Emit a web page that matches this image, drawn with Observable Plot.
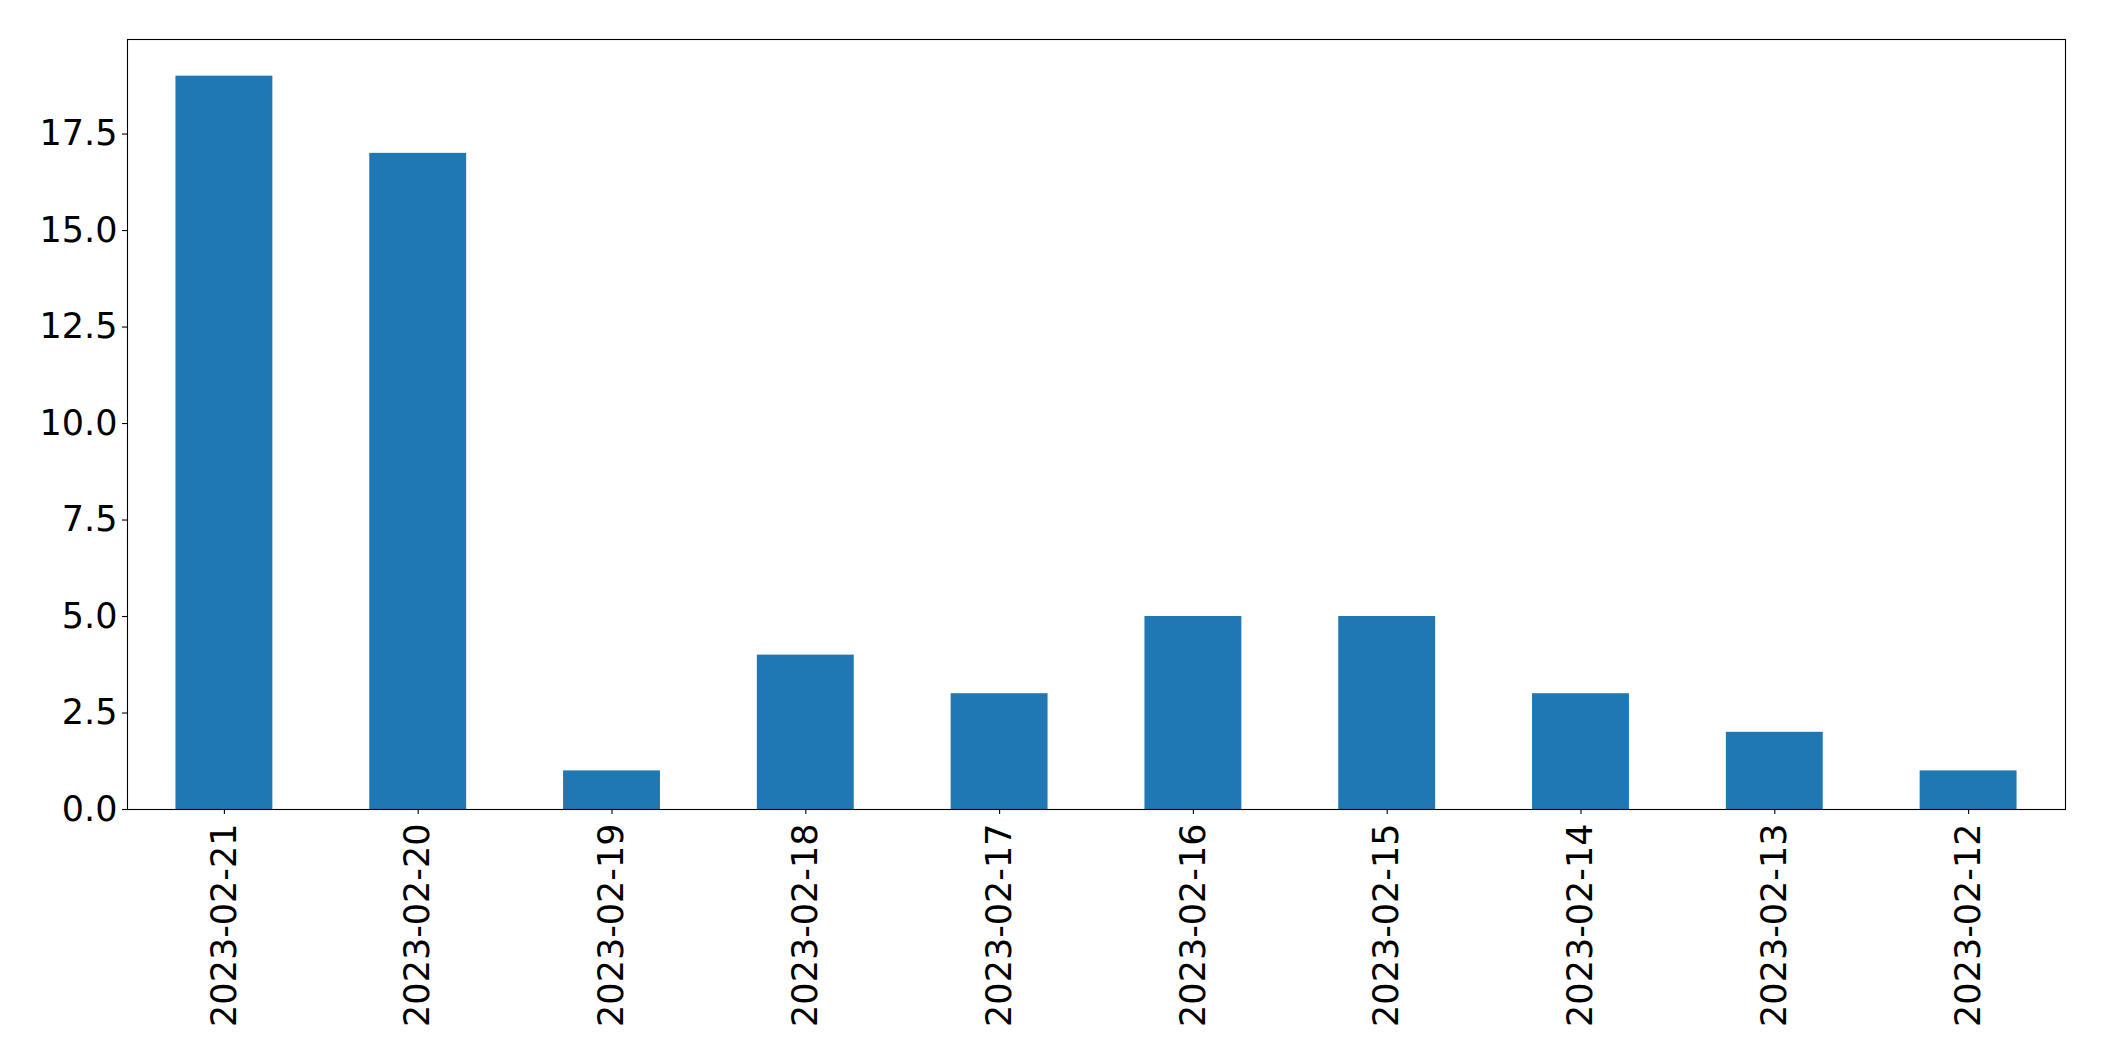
<!DOCTYPE html>
<html>
<head>
<meta charset="utf-8">
<script src="https://cdn.jsdelivr.net/npm/d3@7"></script>
<script src="https://cdn.jsdelivr.net/npm/@observablehq/plot@0.6"></script>
<style>
  html, body { margin: 0; padding: 0; background: #ffffff; }
  #chart svg { display: block; }
</style>
</head>
<body>
<div id="chart"></div>
<script>
const dates = ["2023-02-21", "2023-02-20", "2023-02-19", "2023-02-18", "2023-02-17",
               "2023-02-16", "2023-02-15", "2023-02-14", "2023-02-13", "2023-02-12"];
const counts = [19, 17, 1, 4, 3, 5, 5, 3, 2, 1];
const yTicks = [0, 2.5, 5, 7.5, 10, 12.5, 15, 17.5];

const data = dates.map((d, i) => ({date: d, count: counts[i]}));

const chart = Plot.plot({
  width: 2104,
  height: 1061,
  marginLeft: 127,
  marginRight: 39,
  marginTop: 39,
  marginBottom: 252,
  style: {fontFamily: "'DejaVu Sans', sans-serif", fontSize: "35px", color: "black", background: "white"},
  x: {domain: dates, paddingInner: 0.5, paddingOuter: 0.25, round: false, label: null},
  y: {domain: [0, 19.95], label: null},
  marks: [
    Plot.barY(data, {x: "date", y: "count", fill: "#1f77b4"}),
    Plot.axisY({ticks: yTicks, tickFormat: d3.format(".1f"), tickSize: 5, tickPadding: 5, stroke: "black", strokeWidth: 1.1, label: null}),
    Plot.axisX({tickRotate: -90, tickSize: 5, tickPadding: 9, stroke: "black", strokeWidth: 1.1, label: null}),
    Plot.frame({stroke: "black", strokeWidth: 1.1})
  ]
});
document.getElementById("chart").appendChild(chart);
</script>
</body>
</html>
